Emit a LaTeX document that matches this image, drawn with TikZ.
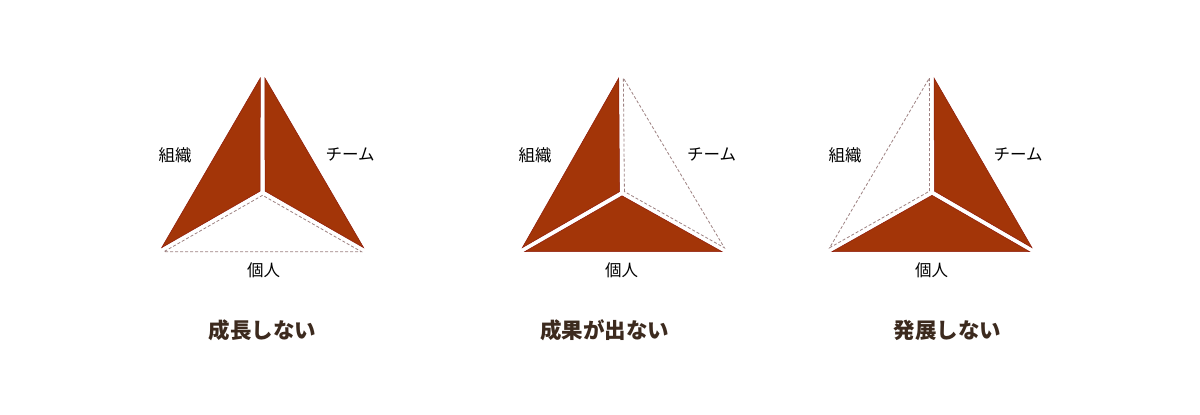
\documentclass[tikz,border=0pt]{standalone}
\usepackage{fontspec}
\newfontfamily\cjk{Noto Sans CJK JP}
\usetikzlibrary{calc}
\definecolor{fillred}{HTML}{A33508}
\definecolor{edgered}{HTML}{8E1A0A}
\definecolor{dashgray}{HTML}{9E8282}
\definecolor{titlebrown}{HTML}{3C2A1E}
\tikzset{
  filled/.style={fill=fillred, draw=edgered, line width=0.5pt, line join=miter},
  empty/.style={draw=dashgray, line width=0.8pt, dash pattern=on 3pt off 2pt},
  lbl/.style={font=\cjk\fontsize{16.5}{16.5}\selectfont, text=black, inner sep=0pt},
  ttl/.style={font=\cjk\bfseries\fontsize{21.5}{21.5}\selectfont, text=titlebrown, inner sep=0pt},
}
% #1 P, #2 Q (outer vertices), #3 R (opposite outer vertex), #4 O (centre), #5 style
\newcommand\myregion[5]{%
  \path[#5] ($(#4)!-2.8pt!(#3)$) -- ($(#1)!4.6pt!(#2)$) -- ($(#2)!4.6pt!(#1)$) -- cycle;
}
\begin{document}
\begin{tikzpicture}[x=1pt,y=-1pt]
\useasboundingbox (0,0) rectangle (1200,415);
\fill[white] (0,0) rectangle (1200,415);
% triangle 1
\coordinate (A1) at (262.6,74);
\coordinate (B1) at (159.3,251.7);
\coordinate (C1) at (366,251.7);
\coordinate (O1) at (262.6,192.5);
\myregion{A1}{B1}{C1}{O1}{filled}
\myregion{A1}{C1}{B1}{O1}{filled}
\myregion{B1}{C1}{A1}{O1}{empty}
% triangle 2
\coordinate (A2) at (621,74);
\coordinate (B2) at (520,251.7);
\coordinate (C2) at (726.7,251.7);
\coordinate (O2) at (622,193);
\myregion{A2}{B2}{C2}{O2}{filled}
\myregion{A2}{C2}{B2}{O2}{empty}
\myregion{B2}{C2}{A2}{O2}{filled}
% triangle 3
\coordinate (A3) at (931.7,74);
\coordinate (B3) at (827.3,251.7);
\coordinate (C3) at (1034.3,251.7);
\coordinate (O3) at (932,192.5);
\myregion{A3}{B3}{C3}{O3}{empty}
\myregion{A3}{C3}{B3}{O3}{filled}
\myregion{B3}{C3}{A3}{O3}{filled}
% labels
\node[lbl] (org1) at (175,155) {組織};
\node[lbl] (team1) at (350,155) {チーム};
\node[lbl] (ind1) at (263.5,270) {個人};
\node[lbl] (org2) at (535,155) {組織};
\node[lbl] (team2) at (711.5,155) {チーム};
\node[lbl] (ind2) at (621.5,270) {個人};
\node[lbl] (org3) at (845,155) {組織};
\node[lbl] (team3) at (1018,155) {チーム};
\node[lbl] (ind3) at (931.5,270) {個人};
% titles
\node[ttl] (t1) at (262.5,330) {成長しない};
\node[ttl] (t2) at (604.5,330) {成果が出ない};
\node[ttl] (t3) at (947.5,330) {発展しない};
\end{tikzpicture}
\end{document}
